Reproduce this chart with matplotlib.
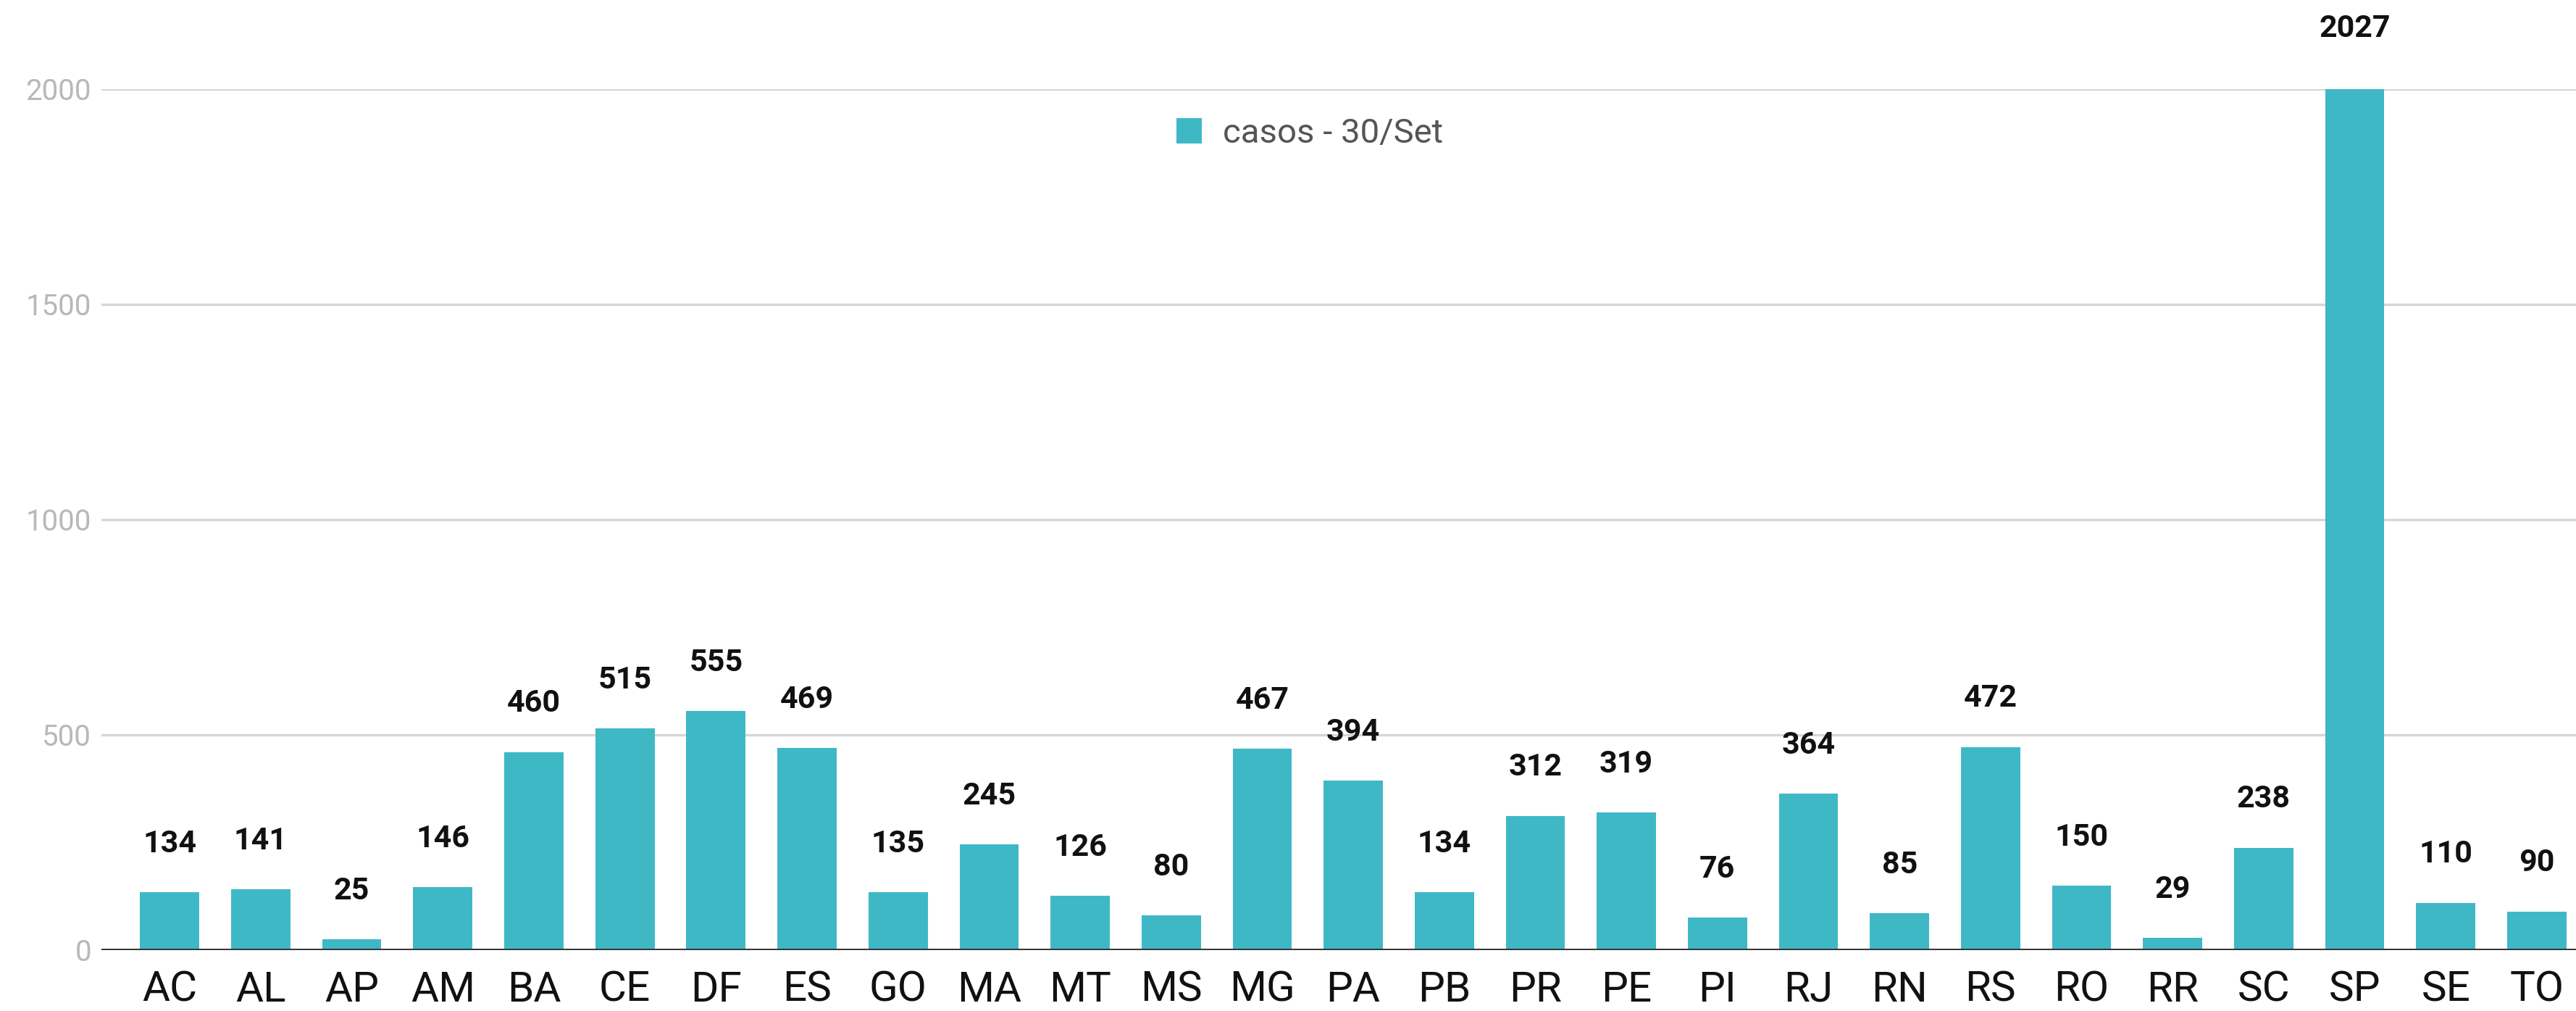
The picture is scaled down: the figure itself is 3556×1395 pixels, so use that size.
import numpy as np
from matplotlib import pyplot as plt

# data
estados = ["AC", "AL", "AP", "AM", "BA", "CE", "DF", "ES", "GO", "MA", "MT", "MS", "MG", "PA",
           "PB", "PR", "PE", "PI", "RJ", "RN", "RS", "RO", "RR", "SC", "SP", "SE", "TO"]
casos = [134, 141, 25, 146, 460, 515, 555, 469, 135, 245, 126, 80, 467, 394,
         134, 312, 319, 76, 364, 85, 472, 150, 29, 238, 2027, 110, 90]
y_ticks = [0, 500, 1000, 1500, 2000]
serie = "casos - 30/Set"

plt.rcParams["font.family"] = ["Roboto", "DejaVu Sans"]

W, H, dpi = 3556, 1395, 200
fig = plt.figure(figsize=(W / dpi, H / dpi), dpi=dpi)
#Axes placed in pixel terms of the reference
left, right, bottom, top = 140, 3556, 1311, 122.5
ax = fig.add_axes([left / W, 1 - bottom / H, (right - left) / W, (bottom - top) / H])

x = np.arange(len(estados))
bars = ax.bar(x, casos, width=0.65, color="#3FB8C6", label=serie, zorder=3)

#Value labels above each bar
for xi, v in zip(x, casos):
    ax.annotate(str(v), (xi, v), xytext=(0, 24), textcoords="offset points",
                ha="center", va="center", fontsize=15.5, fontweight="bold",
                color="#111111", annotation_clip=False)

ax.set_xlim(-0.75, 26.43)
ax.set_ylim(0, 2000)
ax.set_yticks(y_ticks)
ax.set_xticks(x)
ax.set_xticklabels(estados)
ax.tick_params(axis="x", length=0, pad=10, labelsize=21, labelcolor="#111111")
ax.tick_params(axis="y", length=0, pad=5, labelsize=14.5, labelcolor="#b8b8b8")
ax.grid(axis="y", color="#d6d6d6", linewidth=1.2, zorder=0)
ax.axhline(0, color="#333333", linewidth=1.4, zorder=4)
for s in ax.spines.values():
    s.set_visible(False)

ax.legend(loc="center", bbox_to_anchor=(1808 / W, 1 - 184 / H),
          bbox_transform=fig.transFigure, frameon=False, fontsize=17,
          handlelength=0.75, handleheight=0.75, handletextpad=0.6,
          labelcolor="#555555")

fig.savefig("out.png", dpi=dpi)
